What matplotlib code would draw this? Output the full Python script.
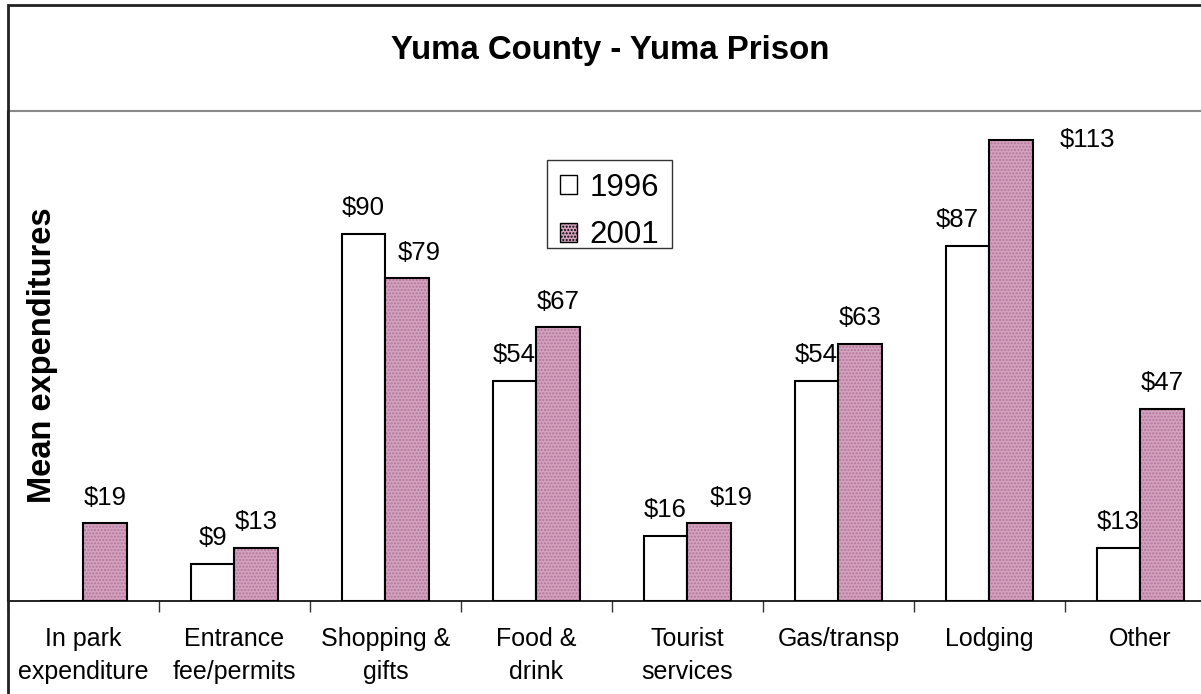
import numpy as np
import matplotlib.pyplot as plt
from matplotlib.patches import Rectangle
from matplotlib.path import Path

plt.rcParams['font.family'] = ['Liberation Sans', 'DejaVu Sans']

categories = ['In park\nexpenditure', 'Entrance\nfee/permits', 'Shopping &\ngifts',
              'Food &\ndrink', 'Tourist\nservices', 'Gas/transp', 'Lodging', 'Other']
vals_1996 = [0, 9, 90, 54, 16, 54, 87, 13]
vals_2001 = [19, 13, 79, 67, 19, 63, 113, 47]
pink = '#d3a2be'
dots = '#b27599'

W, H = 1201, 694
fig = plt.figure(figsize=(W / 100, H / 100), dpi=100)

# plot area: left edge at the chart border, runs off the right side like the original
ax = fig.add_axes([8 / W, (H - 601) / H, 1208 / W, 490 / H])
x = np.arange(len(categories))
bw = 0.29

ax.bar(x - bw / 2, vals_1996, bw, color='white', edgecolor='black', lw=1.5, label='1996')
# pink bars: dotted fill first, then black outline on top
plt.rcParams['hatch.linewidth'] = 1.0
ax.bar(x + bw / 2, vals_2001, bw, color=pink, edgecolor=dots, lw=0, hatch='.....',
       label='2001')
ax.bar(x + bw / 2, vals_2001, bw, fill=False, edgecolor='black', lw=1.5)

ax.set_xlim(-0.5, len(categories) - 0.5)
ax.set_ylim(0, 120)

# value labels, nudged sideways where neighbours would collide (px)
nudge_1996 = {6: -10}
nudge_2001 = {2: 12, 4: 22}
fs = 18.5
for i, (xi, v) in enumerate(zip(x, vals_1996)):
    if v > 0:
        ax.annotate('$%d' % v, (xi - bw / 2, v), xytext=(nudge_1996.get(i, 0) * 0.72, 10),
                    textcoords='offset points', ha='center', va='bottom', fontsize=fs)
for i, (xi, v) in enumerate(zip(x, vals_2001)):
    if v > 105:
        # no room above, pushed to the side
        ax.annotate('$%d' % v, (xi + bw / 2, v), xytext=(55, 0), textcoords='offset points',
                    ha='center', va='center', fontsize=fs)
    else:
        ax.annotate('$%d' % v, (xi + bw / 2, v), xytext=(nudge_2001.get(i, 0) * 0.72, 10),
                    textcoords='offset points', ha='center', va='bottom', fontsize=fs)

ax.set_xticks(x)
ax.set_xticklabels(categories, fontsize=18, linespacing=1.45)
ax.tick_params(axis='x', which='major', length=0, pad=19)
ax.set_xticks(np.arange(len(categories) + 1) - 0.5, minor=True)
ax.tick_params(axis='x', which='minor', length=8, width=1, color='#333333', direction='out')
ax.set_yticks([])

for s in ['top', 'right']:
    ax.spines[s].set_color('#888888')
    ax.spines[s].set_linewidth(1.5)
ax.spines['bottom'].set_linewidth(1.2)
ax.spines['left'].set_linewidth(1.5)

leg = ax.legend(loc='upper left', bbox_to_anchor=((547 - 8) / 1208, (601 - 160) / 490),
                fontsize=22.5, frameon=True, fancybox=False, edgecolor='black',
                handlelength=0.55, handleheight=0.55, handletextpad=0.4,
                borderpad=0.41, labelspacing=0.56, borderaxespad=0)
leg.get_frame().set_linewidth(1.0)


def legend_box(x0, y0, width, height, mutation_size):
    # Excel's legend box has almost no space under the last entry
    cut = 0.5 * mutation_size
    return Path([(x0, y0 + cut), (x0 + width, y0 + cut), (x0 + width, y0 + height),
                 (x0, y0 + height), (x0, y0 + cut)], closed=True)


leg.get_frame().set_boxstyle(legend_box)
for h in leg.legend_handles:
    h.set_linewidth(1.0)
    h.set_edgecolor('black')

fig.text(43 / W, 1 - 355 / H, 'Mean expenditures', rotation=90, ha='center', va='center',
         fontsize=23.5, fontweight='bold')
fig.text(610 / W, 1 - 50 / H, 'Yuma County - Yuma Prison', ha='center', va='center',
         fontsize=23.8, fontweight='bold')

# outer chart border
fig.patches.append(Rectangle((8 / W, -0.1), 1.2, 1.1 - 5 / H, transform=fig.transFigure,
                             fill=False, edgecolor='#222222', lw=2))

fig.savefig('out.png', dpi=100)
